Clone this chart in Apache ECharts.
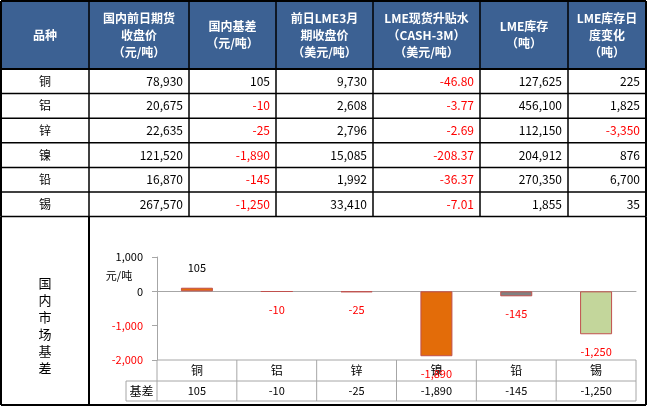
<!DOCTYPE html>
<html><head><meta charset="utf-8">
<script src="https://cdn.jsdelivr.net/npm/echarts@6/dist/echarts.min.js"></script>
<style>html,body{margin:0;padding:0;background:#fff}#c{width:647px;height:406px}</style>
</head><body><div id="c"></div>
<script>
const metals = ['铜','铝','锌','镍','铅','锡'];
const headers = [['品种'],['国内前日期货','收盘价','（元/吨）'],['国内基差','（元/吨）'],['前日LME3月','期收盘价','（美元/吨）'],['LME现货升贴水','（CASH-3M）','（美元/吨）'],['LME库存','（吨）'],['LME库存日','度变化','（吨）']];
const domesticClose = ['78,930','20,675','22,635','121,520','16,870','267,570'];
const basisText = ['105','-10','-25','-1,890','-145','-1,250'];
const lme3m = ['9,730','2,608','2,796','15,085','1,992','33,410'];
const cashSpread = ['-46.80','-3.77','-2.69','-208.37','-36.37','-7.01'];
const lmeStock = ['127,625','456,100','112,150','204,912','270,350','1,855'];
const stockChange = ['225','1,825','-3,350','876','6,700','35'];
const basis = [105,-10,-25,-1890,-145,-1250];
const barColors = ['#E36C09','#C0504D','#C0504D','#E36C09','#808080','#C3D69B'];

const F = '"Noto Sans CJK SC", sans-serif';
const RED = '#FF0000';
const chart = echarts.init(document.getElementById('c'));
const fmt = v => v.toLocaleString('en-US');
chart.setOption({
  animation:false,
  grid:{left:157,right:11,top:257,bottom:46},
  xAxis:[{type:'category',data:metals,axisLine:{onZero:true,lineStyle:{color:'#A6A6A6'}},axisTick:{show:false},axisLabel:{show:false}}],
  yAxis:{type:'value',min:-2000,max:1000,interval:1000,splitLine:{show:false},
    axisLine:{show:true,lineStyle:{color:'#A6A6A6'}},axisTick:{show:true,lineStyle:{color:'#A6A6A6'}},
    axisLabel:{fontFamily:F,fontSize:11,margin:14,formatter:v=>fmt(v),color:v=>Number(v)<0?RED:'#000'}},
  series:[{type:'bar',barWidth:32,
    data:basis.map((v,i)=>({value:v,itemStyle:{color:barColors[i],borderColor:'#C0504D',borderWidth:1},
      label:{show:true,position:v>=0?'top':'bottom',distance:v>=0?14:12,color:v<0?RED:'#000',fontFamily:F,fontSize:11,formatter:()=>basisText[i]}}))}]
});

const g = [];
const X = [1,89,189,276,373,480,568,646];
const H0=1,H1=69,RH=24.6;
g.push({type:'rect',shape:{x:X[0],y:H0,width:X[7]-X[0],height:H1-H0},style:{fill:'#3C6193'}});
headers.forEach((h,c)=>{
  const cx=(X[c]+X[c+1])/2, n=h.length;
  h.forEach((t,k)=>g.push({type:'text',x:cx,y:(H0+H1)/2+(k-(n-1)/2)*17,style:{text:t,fill:'#fff',font:'bold 12px '+F,align:'center',verticalAlign:'middle'}}));
});
const cols=[domesticClose,basisText,lme3m,cashSpread,lmeStock,stockChange];
metals.forEach((m,r)=>{
  const y=H1+r*RH+RH/2;
  g.push({type:'text',x:(X[0]+X[1])/2,y,style:{text:m,fill:'#000',font:'12px '+F,align:'center',verticalAlign:'middle'}});
  cols.forEach((col,c)=>{const t=col[r];
    g.push({type:'text',x:X[c+2]-6,y,style:{text:t,fill:t[0]==='-'?RED:'#000',font:'12px '+F,align:'right',verticalAlign:'middle'}});});
});
const L=(x1,y1,x2,y2,w,col)=>g.push({type:'line',shape:{x1,y1,x2,y2},style:{stroke:col||'#000',lineWidth:w||1}});
const TB=H1+6*RH;
for(let r=0;r<=6;r++) L(X[0],H1+r*RH,X[7],H1+r*RH,r===0?2:1.5);
L(X[0],H0,X[7],H0,2);
X.forEach((x,i)=>L(x,H0,x,TB,(i===0||i===7)?2:1.5));
L(X[0],TB,X[0],405,2);L(X[7],TB,X[7],405,2);L(X[1],TB,X[1],405,2);L(X[0],405,X[7],405,2);
'国内市场基差'.split('').forEach((ch,k)=>g.push({type:'text',x:45,y:283+k*17,style:{text:ch,fill:'#000',font:'13px '+F,align:'center',verticalAlign:'middle'}}));
g.push({type:'text',x:119,y:276,style:{text:'元/吨',fill:'#000',font:'11px '+F,align:'center',verticalAlign:'middle'}});
const pb=chart.convertToPixel({yAxisIndex:0},-2000);
const left=157,right=636,r1=pb+21,r2=pb+41,lab=126;
const gray='#A6A6A6';
L(left,pb,right,pb,1,gray);L(lab,r1,right,r1,1,gray);L(lab,r2,right,r2,1,gray);L(lab,r1,lab,r2,1,gray);
const cw=(right-left)/metals.length;
for(let i=0;i<=metals.length;i++) L(left+i*cw,pb,left+i*cw,r2,1,gray);
g.push({type:'text',x:(lab+left)/2,y:(r1+r2)/2,style:{text:'基差',fill:'#000',font:'12px '+F,align:'center',verticalAlign:'middle'}});
metals.forEach((m,i)=>{
  const cx=chart.convertToPixel({xAxisIndex:0},m);
  g.push({type:'text',x:cx,y:(pb+r1)/2,style:{text:m,fill:'#000',font:'12px '+F,align:'center',verticalAlign:'middle'}});
  g.push({type:'text',x:cx,y:(r1+r2)/2,style:{text:basisText[i],fill:'#000',font:'11px '+F,align:'center',verticalAlign:'middle'}});
});
chart.setOption({graphic:g});
</script></body></html>
